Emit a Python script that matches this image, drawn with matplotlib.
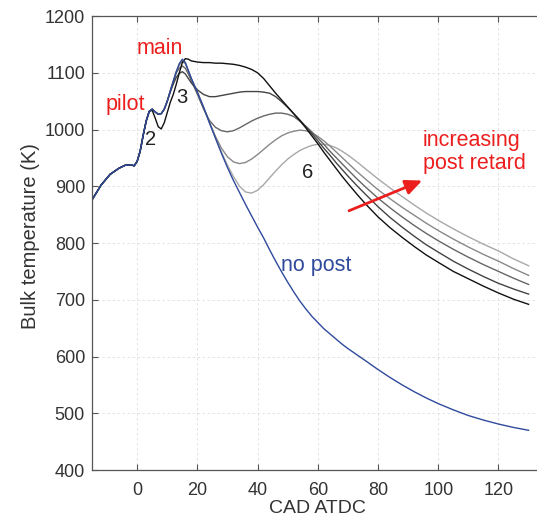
import matplotlib.pyplot as plt
import numpy as np

plt.rcParams['font.family'] = ['Liberation Sans', 'DejaVu Sans']

# crank angle grid (deg ATDC)
cad = [-15, -12, -9, -6, -4, -2, -1,
       0, 1, 2, 3, 4, 5, 6, 7, 8, 9, 10, 11, 12, 13, 14, 15, 16, 17, 18,
       20, 22, 24, 26, 28, 30, 32, 34, 36, 38, 40, 42, 44, 46, 48, 50, 52, 54,
       56, 58, 60, 62, 64, 66, 68, 70,
       73, 76, 80, 84, 88, 92, 96, 100, 105, 110, 115, 120, 125, 130]

t_early = [876, 902, 921, 932, 937, 938, 936]

t_nopost = t_early + [944, 962, 990, 1015, 1032, 1036, 1031, 1027, 1028, 1036, 1050, 1068, 1085, 1102, 1116, 1124, 1118, 1104, 1090,
                      1066, 1040, 1012, 985, 958, 933, 910, 889, 868, 848, 828, 809, 788, 768, 749, 731, 714, 698, 684, 671, 660, 649, 640, 631, 622, 614,
                      603, 592, 577, 563, 550, 538, 527, 517, 506, 496, 488, 481, 475, 470]

t_post1 = t_early + [944, 962, 990, 1015, 1032, 1034, 1020, 1005, 1001, 1012, 1030, 1048, 1062, 1080, 1100, 1118, 1125, 1124, 1121,
                     1119, 1118, 1118, 1117, 1117, 1116, 1115, 1113, 1110, 1106, 1100, 1090, 1077, 1064, 1052, 1040, 1028, 1016, 1003, 989, 975, 960, 946, 932, 918, 905,
                     886, 868, 846, 827, 810, 794, 779, 766, 750, 737, 724, 712, 701, 692]

t_post2 = t_early + [944, 962, 990, 1015, 1032, 1036, 1031, 1027, 1028, 1036, 1050, 1066, 1080, 1092, 1099, 1102, 1098, 1090, 1082,
                     1070, 1062, 1058, 1058, 1060, 1062, 1064, 1066, 1067, 1067, 1067, 1066, 1064, 1058, 1049, 1039, 1028, 1017, 1005, 993, 980, 967, 955, 942, 930, 918,
                     901, 885, 864, 845, 828, 812, 797, 784, 768, 754, 741, 729, 719, 710]

t_post3 = t_early + [944, 962, 990, 1015, 1032, 1036, 1031, 1027, 1028, 1036, 1050, 1068, 1085, 1100, 1108, 1112, 1108, 1098, 1086,
                     1062, 1037, 1016, 1004, 998, 996, 998, 1003, 1009, 1015, 1020, 1024, 1027, 1029, 1029, 1027, 1023, 1015, 1006, 996, 985, 974, 962, 951, 940, 929,
                     913, 898, 879, 862, 846, 831, 817, 804, 789, 775, 762, 750, 738, 727]

t_post4 = t_early + [944, 962, 990, 1015, 1032, 1036, 1031, 1027, 1028, 1036, 1050, 1068, 1085, 1102, 1114, 1120, 1116, 1103, 1089,
                     1065, 1040, 1013, 988, 967, 952, 943, 940, 942, 948, 956, 965, 974, 982, 989, 994, 997, 999, 998, 994, 988, 980, 971, 961, 951, 941,
                     926, 912, 894, 878, 863, 849, 835, 822, 807, 793, 780, 768, 755, 743]

t_post5 = t_early + [944, 962, 990, 1015, 1032, 1036, 1031, 1027, 1028, 1036, 1050, 1068, 1085, 1102, 1116, 1123, 1118, 1104, 1090,
                     1066, 1040, 1012, 985, 960, 937, 917, 900, 890, 888, 893, 903, 915, 927, 938, 948, 956, 963, 968, 972, 974, 974, 972, 968, 962, 955,
                     943, 930, 913, 897, 882, 867, 853, 840, 825, 811, 798, 786, 772, 760]

posts = [t_post5, t_post4, t_post3, t_post2, t_post1]
greys = ['#a8a8a8', '#888888', '#666666', '#444444', '#111111']

fig = plt.figure(figsize=(5.37, 5.17), dpi=100)
# axes run a little past the right edge of the picture (cropped like the original)
ax = fig.add_axes([0.1713, 0.0909, 0.8411, 0.878])

for t, c in zip(posts, greys):
    ax.plot(cad, t, color=c, lw=1.0)
ax.plot(cad, t_nopost, color='#2f4a9c', lw=1.0)

ax.set_xlim(-15, 135)
ax.set_ylim(400, 1200)
ax.set_xticks([0, 20, 40, 60, 80, 100, 120])
ax.set_yticks(np.arange(400, 1201, 100))
ax.grid(linestyle=(0, (3, 3)), linewidth=0.6, color='#dedede')
ax.tick_params(direction='in', top=True, right=True, length=4, color='#555555',
               labelsize=13, labelcolor='#333333', width=0.8)
ax.tick_params(axis='x', pad=8.5)
ax.tick_params(axis='y', pad=5)
for s in ax.spines.values():
    s.set_color('#555555')
    s.set_linewidth(0.9)
ax.spines['right'].set_visible(False)

ax.set_xlabel('CAD ATDC', fontsize=14, color='#333333', labelpad=1)
ax.set_ylabel('Bulk temperature (K)', fontsize=14.5, color='#333333')
ax.yaxis.set_label_coords(-0.115, 0.515)

red = '#ec1f1f'
ax.text(-3.8, 1045, 'pilot', color=red, fontsize=15.5, ha='center', va='center')
ax.text(7.5, 1142, 'main', color=red, fontsize=15.5, ha='center', va='center')
ax.text(94.8, 981, 'increasing', color=red, fontsize=15.5, ha='left', va='center')
ax.text(94.8, 941, 'post retard', color=red, fontsize=15.5, ha='left', va='center')
ax.annotate('', xy=(95.5, 912), xytext=(69.5, 855),
            arrowprops=dict(arrowstyle='-|>,head_length=1.0,head_width=0.45', color=red, lw=2.0))
ax.text(59.5, 760, 'no post', color='#2f4a9c', fontsize=15.5, ha='center', va='center')
ax.text(4.3, 982, '2', color='#222222', fontsize=14.5, ha='center', va='center')
ax.text(14.8, 1057, '3', color='#222222', fontsize=14.5, ha='center', va='center')
ax.text(56.5, 925, '6', color='#222222', fontsize=14.5, ha='center', va='center')

fig.savefig('out.png', dpi=100)
